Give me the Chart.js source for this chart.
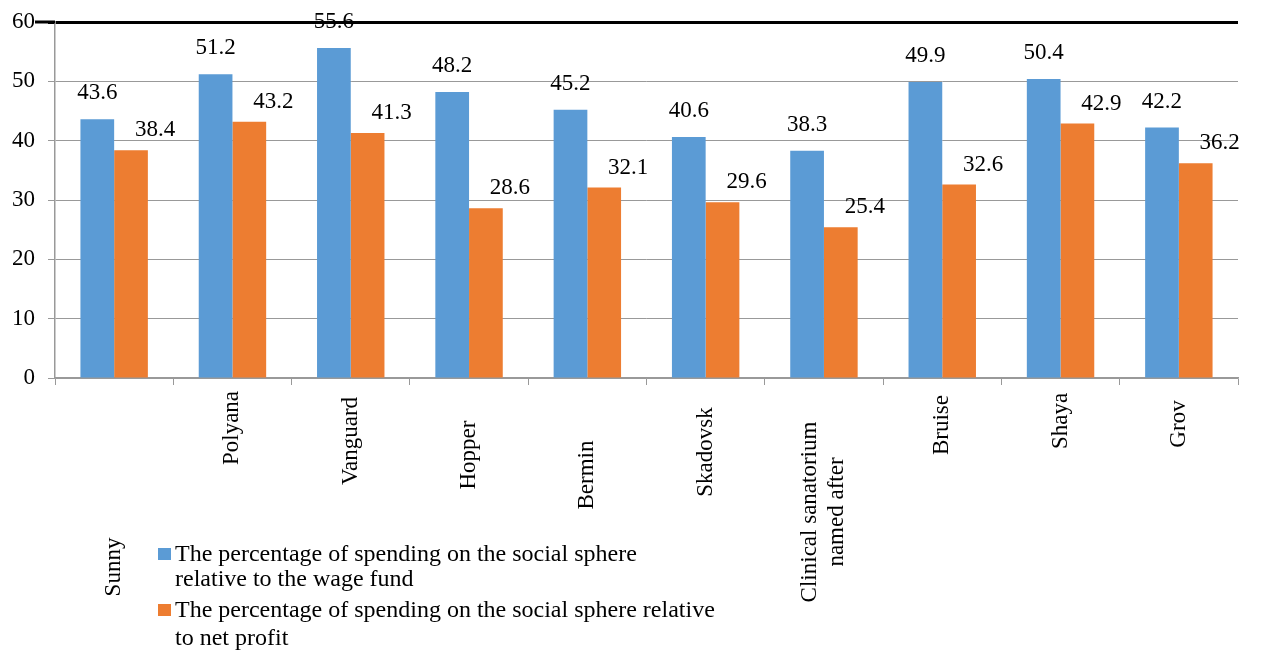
<!DOCTYPE html>
<html>
<head>
<meta charset="utf-8">
<script src="https://cdn.jsdelivr.net/npm/chart.js"></script>
<style>
    html, body { margin: 0; padding: 0; background: #fff; }
    #contenedor { width: 1263px; height: 654px; position: relative; }
</style>
</head>
<body>
<div id="contenedor"><canvas id="myChart"></canvas></div>
<script>
// DATOS DE LA GRAFICA
const categorias = ['Sunny', 'Polyana', 'Vanguard', 'Hopper', 'Bermin', 'Skadovsk',
    ['Clinical sanatorium', 'named after'], 'Bruise', 'Shaya', 'Grov'];
const gastoFondoSalarial = [43.6, 51.2, 55.6, 48.2, 45.2, 40.6, 38.3, 49.9, 50.4, 42.2];
const gastoBeneficioNeto = [38.4, 43.2, 41.3, 28.6, 32.1, 29.6, 25.4, 32.6, 42.9, 36.2];
const ticksEjeY = [0, 10, 20, 30, 40, 50, 60];
const nombresSeries = [
    ['The percentage of spending on the social sphere', 'relative to the wage fund'],
    ['The percentage of spending on the social sphere relative', 'to net profit']
];

// ESTILO
const FUENTE = '"Liberation Serif", "Times New Roman", serif';
const TAM = 23;
const AZUL = '#5b9bd5';
const NARANJA = '#ed7d31';
const GRIS = '#999999';

// altura del centro de cada etiqueta girada (debajo del eje)
const centroEtiquetas = [567, 428, 441, 455, 475, 452, 512, 425, 421, 424];

// ETIQUETAS DEL EJE X (giradas 90 grados)
const etiquetasX = {
    id: 'etiquetasX',
    afterDraw(chart) {
        const ctx = chart.ctx;
        const x = chart.scales.x;
        ctx.save();
        ctx.font = TAM + 'px ' + FUENTE;
        ctx.fillStyle = '#000';
        ctx.textAlign = 'center';
        ctx.textBaseline = 'middle';
        categorias.forEach((cat, i) => {
            const lineas = Array.isArray(cat) ? cat : [cat];
            const px = x.getPixelForValue(i);
            ctx.save();
            ctx.translate(px, centroEtiquetas[i]);
            ctx.rotate(-Math.PI / 2);
            const alto = 27;
            lineas.forEach((l, j) => {
                ctx.fillText(l, 0, (j - (lineas.length - 1) / 2) * alto);
            });
            ctx.restore();
        });
        ctx.restore();
    }
};

// VALORES ENCIMA DE LAS BARRAS
const valoresBarras = {
    id: 'valoresBarras',
    afterDatasetsDraw(chart) {
        const ctx = chart.ctx;
        ctx.save();
        ctx.font = TAM + 'px ' + FUENTE;
        ctx.fillStyle = '#000';
        ctx.textAlign = 'center';
        ctx.textBaseline = 'middle';
        chart.data.datasets.forEach((ds, d) => {
            const meta = chart.getDatasetMeta(d);
            meta.data.forEach((barra, i) => {
                const dx = d === 1 ? 24 : 0;
                const dy = d === 1 ? 20 : 26;
                ctx.fillText(ds.data[i].toFixed(1), barra.x + dx, barra.y - dy);
            });
        });
        ctx.restore();
    }
};

// LINEA SUPERIOR NEGRA QUE SALE HACIA LA IZQUIERDA
const lineaSuperior = {
    id: 'lineaSuperior',
    afterDraw(chart) {
        const ctx = chart.ctx;
        const y = chart.scales.y.getPixelForValue(60);
        ctx.save();
        ctx.strokeStyle = '#000';
        ctx.lineWidth = 3;
        ctx.beginPath();
        ctx.moveTo(chart.chartArea.left - 20, y);
        ctx.lineTo(chart.chartArea.left, y);
        ctx.stroke();
        ctx.restore();
    }
};

// LEYENDA ABAJO A LA IZQUIERDA
const leyenda = {
    id: 'leyendaPropia',
    afterDraw(chart) {
        const ctx = chart.ctx;
        const colores = [AZUL, NARANJA];
        const filas = [[555, 580], [611, 639]];
        const xCaja = 158;
        ctx.save();
        ctx.font = '24px ' + FUENTE;
        ctx.textAlign = 'left';
        ctx.textBaseline = 'middle';
        nombresSeries.forEach((lineas, s) => {
            ctx.fillStyle = colores[s];
            ctx.fillRect(xCaja, filas[s][0] - 7, 13, 12);
            ctx.fillStyle = '#000';
            lineas.forEach((l, j) => ctx.fillText(l, xCaja + 17, filas[s][j]));
        });
        ctx.restore();
    }
};

const ctx = document.getElementById('myChart').getContext('2d');
window.myChart = new Chart(ctx, {
    type: 'bar',
    data: {
        labels: categorias,
        datasets: [{
            label: nombresSeries[0].join(' '),
            data: gastoFondoSalarial,
            backgroundColor: AZUL
        }, {
            label: nombresSeries[1].join(' '),
            data: gastoBeneficioNeto,
            backgroundColor: NARANJA
        }]
    },
    options: {
        animation: false,
        responsive: true,
        maintainAspectRatio: false,
        categoryPercentage: 0.57,
        barPercentage: 1,
        layout: {
            padding: { left: 0, top: 22, right: 25, bottom: 269 }
        },
        plugins: {
            legend: { display: false },
            tooltip: { enabled: false }
        },
        scales: {
            x: {
                offset: true,
                grid: {
                    offset: true,
                    drawOnChartArea: false,
                    drawTicks: true,
                    tickLength: 7,
                    color: GRIS
                },
                border: { color: GRIS, width: 1.5 },
                ticks: { display: false },
                afterFit(s) { s.height = 7; }
            },
            y: {
                min: 0,
                max: 60,
                afterBuildTicks(s) { s.ticks = ticksEjeY.map(v => ({ value: v })); },
                grid: {
                    color: c => c.tick && c.tick.value === 60 ? '#000' : GRIS,
                    lineWidth: c => c.tick && c.tick.value === 60 ? 3 : 1,
                    tickLength: 7
                },
                border: { color: GRIS, width: 1.5 },
                ticks: {
                    color: '#000',
                    padding: 13,
                    font: { family: FUENTE, size: TAM }
                },
                afterFit(s) {
                    s.width = 55;
                    s.paddingTop = 0;
                    s.paddingBottom = 0;
                }
            }
        }
    },
    plugins: [valoresBarras, etiquetasX, lineaSuperior, leyenda]
});
</script>
</body>
</html>
